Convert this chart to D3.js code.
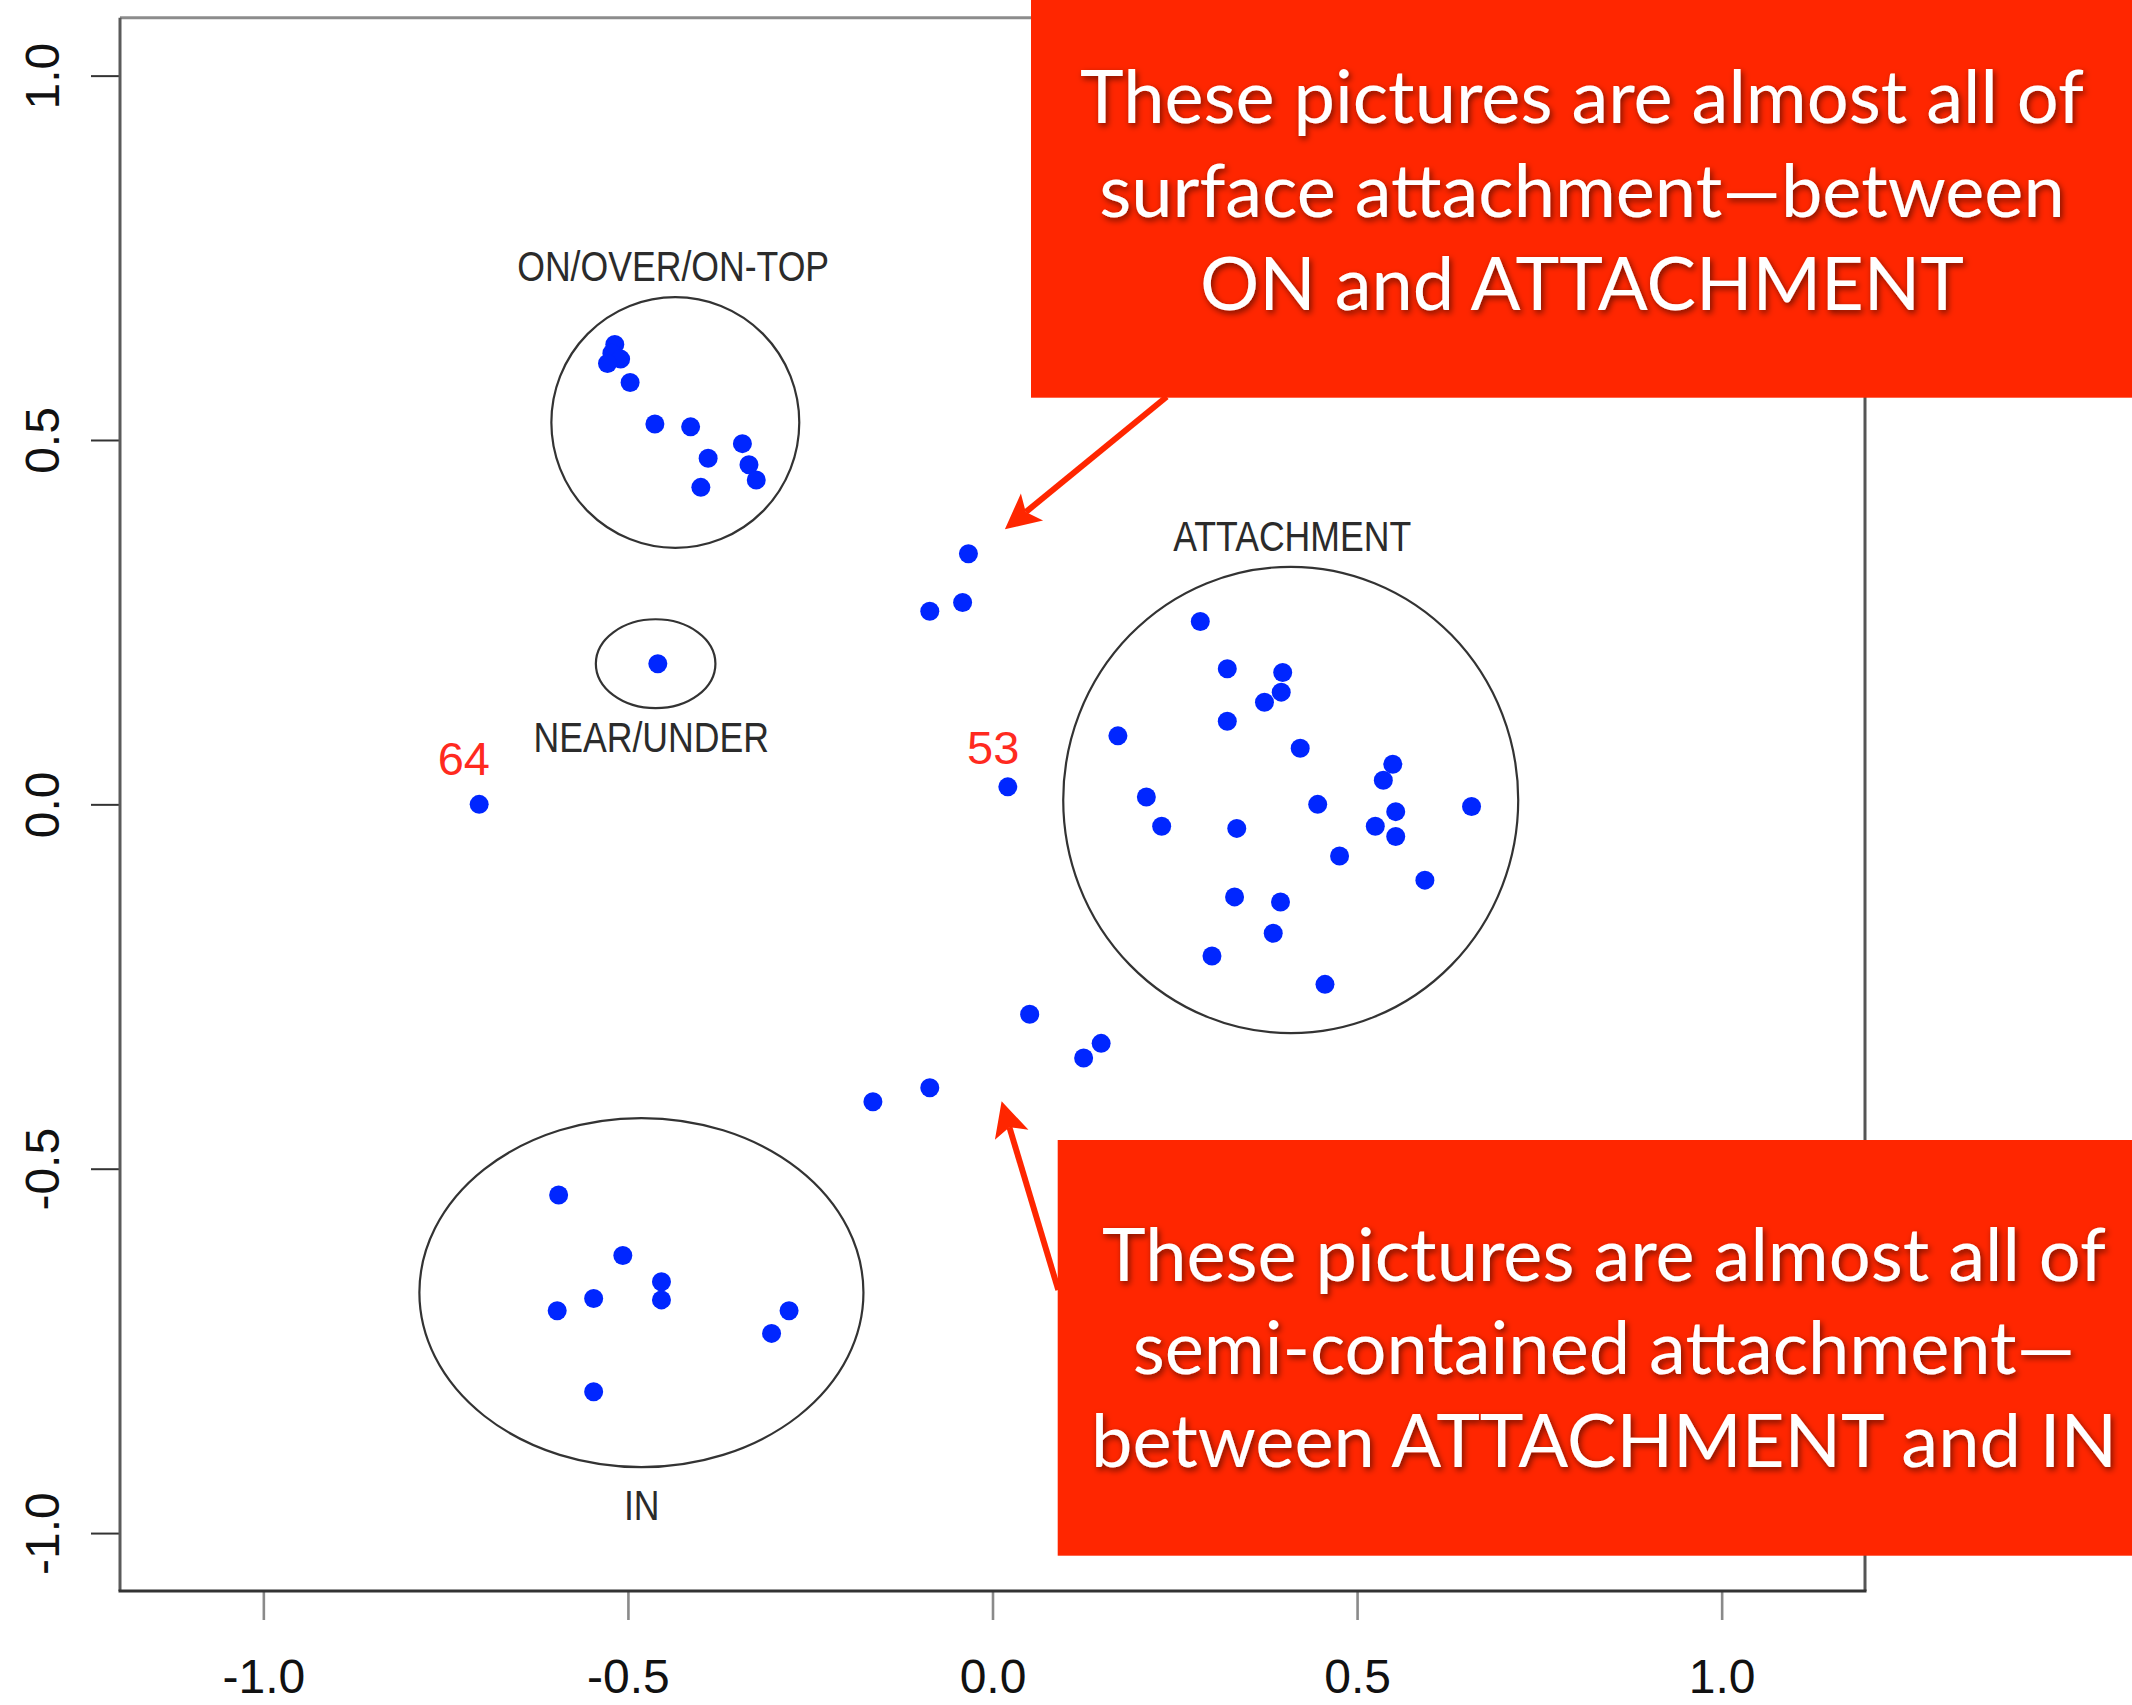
<!DOCTYPE html>
<html>
<head>
<meta charset="utf-8">
<script src="https://cdn.jsdelivr.net/npm/d3@7"></script>
<style>
  html, body { margin: 0; padding: 0; background: #ffffff; }
  svg { display: block; }
</style>
</head>
<body>
<svg id="chart" width="2132" height="1705"></svg>
<script>
// ---------------- DATA ----------------
const xTicks = [-1.0, -0.5, 0.0, 0.5, 1.0];
const yTicks = [-1.0, -0.5, 0.0, 0.5, 1.0];
const xTickLabels = ["-1.0", "-0.5", "0.0", "0.5", "1.0"];
const yTickLabels = ["-1.0", "-0.5", "0.0", "0.5", "1.0"];

const onOverPoints = [
  [-0.518, 0.631], [-0.522, 0.619], [-0.510, 0.611], [-0.528, 0.605],
  [-0.497, 0.579], [-0.463, 0.522], [-0.414, 0.518], [-0.343, 0.495],
  [-0.390, 0.475], [-0.334, 0.466], [-0.324, 0.445], [-0.400, 0.435]
];
const nearUnderPoints = [[-0.459, 0.193]];
const attachmentPoints = [
  [0.285, 0.251], [0.322, 0.186], [0.398, 0.181], [0.396, 0.154], [0.373, 0.140],
  [0.322, 0.114], [0.172, 0.094], [0.422, 0.077], [0.549, 0.055], [0.536, 0.033],
  [0.211, 0.010], [0.446, 0.000], [0.657, -0.003], [0.553, -0.010], [0.232, -0.030],
  [0.335, -0.033], [0.525, -0.030], [0.553, -0.044], [0.476, -0.071], [0.593, -0.104],
  [0.332, -0.127], [0.395, -0.134], [0.385, -0.177], [0.301, -0.208], [0.456, -0.247]
];
const inPoints = [
  [-0.595, -0.536], [-0.507, -0.619], [-0.454, -0.655], [-0.454, -0.680],
  [-0.547, -0.678], [-0.597, -0.695], [-0.279, -0.695], [-0.303, -0.726],
  [-0.547, -0.806]
];
const upperBetweenPoints = [[-0.033, 0.344], [-0.041, 0.277], [-0.086, 0.265]];
const lowerBetweenPoints = [[0.051, -0.288], [0.149, -0.328], [0.125, -0.348], [-0.086, -0.389], [-0.164, -0.408]];
const outlierPoints = [[-0.704, 0.000], [0.021, 0.024]];
const outlierLabels = ["64", "53"];
const outlierLabelPos = [[-0.725, 0.064], [0.001, 0.079]];

const clusterNames = ["ON/OVER/ON-TOP", "NEAR/UNDER", "ATTACHMENT", "IN"];
const clusterCenters = [[-0.435, 0.524], [-0.462, 0.193], [0.409, 0.006], [-0.4815, -0.670]];
const clusterRadii = [[0.170, 0.172], [0.082, 0.061], [0.312, 0.320], [0.3045, 0.2395]];
const clusterLabelPos = [[-0.438, 0.739], [-0.468, 0.093], [0.411, 0.368], [-0.481, -0.961]];

const calloutTexts = [
  ["These pictures are almost all of", "surface attachment\u2014between", "ON and ATTACHMENT"],
  ["These pictures are almost all of", "semi-contained attachment\u2014", "between ATTACHMENT and IN"]
];
const arrowTips = [[0.017, 0.3776], [0.0125, -0.4075]];

// ---------------- LAYOUT ----------------
const W = 2132, H = 1705;
const plot = { left: 120, right: 1865, top: 17.7, bottom: 1591 };
const svg = d3.select("#chart");

const x = d3.scaleLinear().domain([-1.1966, 1.1966]).range([plot.left, plot.right]);
const y = d3.scaleLinear().domain([-1.0795, 1.0795]).range([plot.bottom, plot.top]);

svg.append("rect").attr("width", W).attr("height", H).attr("fill", "#ffffff");

const defs = svg.append("defs");
const f = defs.append("filter").attr("id", "tshadow")
  .attr("x", "-10%").attr("y", "-30%").attr("width", "120%").attr("height", "160%");
f.append("feDropShadow").attr("dx", 2).attr("dy", 3).attr("stdDeviation", 3)
  .attr("flood-color", "#000").attr("flood-opacity", 0.55);

// ---------------- AXES ----------------
const tickLen = 29;
const xAxis = d3.axisBottom(x).tickValues(xTicks).tickSize(tickLen).tickPadding(0)
  .tickFormat((d, i) => xTickLabels[i]);
const gx = svg.append("g").attr("transform", `translate(0,${plot.bottom})`).call(xAxis);
gx.select(".domain").remove();
gx.selectAll(".tick line").attr("stroke", "#8a8a8a").attr("stroke-width", 2.6);
gx.selectAll(".tick text")
  .attr("font-family", "'Liberation Sans', Arial, Helvetica, sans-serif")
  .attr("font-size", 48).attr("fill", "#111").attr("dy", null)
  .attr("y", 1693 - plot.bottom).attr("dominant-baseline", "alphabetic");

const yAxis = d3.axisLeft(y).tickValues(yTicks).tickSize(tickLen).tickPadding(0)
  .tickFormat((d, i) => yTickLabels[i]);
const gy = svg.append("g").attr("transform", `translate(${plot.left},0)`).call(yAxis);
gy.select(".domain").remove();
gy.selectAll(".tick line").attr("stroke", "#333").attr("stroke-width", 2);
gy.selectAll(".tick text")
  .attr("font-family", "'Liberation Sans', Arial, Helvetica, sans-serif")
  .attr("font-size", 48).attr("fill", "#111")
  .attr("x", null).attr("dy", null)
  .attr("text-anchor", "middle")
  .attr("transform", `translate(${59 - plot.left},0) rotate(-90)`);

// frame
svg.append("line").attr("x1", plot.left).attr("x2", plot.right).attr("y1", plot.top).attr("y2", plot.top)
  .attr("stroke", "#8c8c8c").attr("stroke-width", 3);
svg.append("line").attr("x1", plot.left).attr("x2", plot.left).attr("y1", plot.top).attr("y2", plot.bottom)
  .attr("stroke", "#5a5a5a").attr("stroke-width", 3);
svg.append("line").attr("x1", plot.right).attr("x2", plot.right).attr("y1", plot.top).attr("y2", plot.bottom)
  .attr("stroke", "#555").attr("stroke-width", 3);
svg.append("line").attr("x1", plot.left - 1.5).attr("x2", plot.right + 1.5).attr("y1", plot.bottom).attr("y2", plot.bottom)
  .attr("stroke", "#333").attr("stroke-width", 3);

// ---------------- CLUSTER ELLIPSES ----------------
const pxPerUnitX = x(1) - x(0), pxPerUnitY = y(0) - y(1);
svg.append("g").selectAll("ellipse").data(clusterCenters).join("ellipse")
  .attr("cx", d => x(d[0])).attr("cy", d => y(d[1]))
  .attr("rx", (d, i) => clusterRadii[i][0] * pxPerUnitX)
  .attr("ry", (d, i) => clusterRadii[i][1] * pxPerUnitY)
  .attr("fill", "none").attr("stroke", "#333").attr("stroke-width", 2.2);

svg.append("g").selectAll("text").data(clusterNames).join("text")
  .attr("transform", (d, i) => `translate(${x(clusterLabelPos[i][0])},${y(clusterLabelPos[i][1])}) scale(0.848,1)`)
  .attr("dy", "0.36em")
  .attr("text-anchor", "middle")
  .attr("font-family", "'Liberation Sans', Arial, Helvetica, sans-serif")
  .attr("font-size", 42).attr("fill", "#2b2b2b")
  .text(d => d);

// ---------------- POINTS ----------------
const allPoints = [].concat(onOverPoints, nearUnderPoints, attachmentPoints, inPoints,
  upperBetweenPoints, lowerBetweenPoints, outlierPoints);
svg.append("g").selectAll("circle").data(allPoints).join("circle")
  .attr("cx", d => x(d[0])).attr("cy", d => y(d[1]))
  .attr("r", 9.5).attr("fill", "#0026ff");

svg.append("g").selectAll("text").data(outlierLabels).join("text")
  .attr("x", (d, i) => x(outlierLabelPos[i][0])).attr("y", (d, i) => y(outlierLabelPos[i][1]))
  .attr("dy", "0.36em").attr("text-anchor", "middle")
  .attr("font-family", "'Liberation Sans', Arial, Helvetica, sans-serif")
  .attr("font-size", 47).attr("fill", "#ff2a1f")
  .text(d => d);

// ---------------- CALLOUTS ----------------
const red = "#ff2600";
const boxes = [
  { x0: 1031, y0: -10, x1: 2140, y1: 397.7, cx: 1582, baselines: [123, 217, 310], from: [1166.7, 396.7] },
  { x0: 1057.7, y0: 1140, x1: 2140, y1: 1555.7, cx: 1604, baselines: [1281, 1374, 1466.5], from: [1058.3, 1290] }
];

function drawArrow(g, from, tip) {
  const dx = tip[0] - from[0], dy = tip[1] - from[1];
  const len = Math.hypot(dx, dy), ux = dx / len, uy = dy / len;
  const px = -uy, py = ux;
  const headLen = 35, halfW = 17.5, notch = 8;
  const base = [tip[0] - ux * headLen, tip[1] - uy * headLen];
  const notchPt = [tip[0] - ux * (headLen - notch), tip[1] - uy * (headLen - notch)];
  g.append("line").attr("x1", from[0]).attr("y1", from[1])
    .attr("x2", notchPt[0]).attr("y2", notchPt[1])
    .attr("stroke", red).attr("stroke-width", 6);
  g.append("path").attr("d", d3.line()([
    tip,
    [base[0] + px * halfW, base[1] + py * halfW],
    notchPt,
    [base[0] - px * halfW, base[1] - py * halfW]
  ]) + "Z").attr("fill", red);
}

const ga = svg.append("g");
boxes.forEach((b, i) => drawArrow(ga, b.from, [x(arrowTips[i][0]), y(arrowTips[i][1])]));

boxes.forEach((b, i) => {
  const g = svg.append("g");
  g.append("rect").attr("x", b.x0).attr("y", b.y0)
    .attr("width", b.x1 - b.x0).attr("height", b.y1 - b.y0).attr("fill", red);
  g.selectAll("text").data(calloutTexts[i]).join("text")
    .attr("x", b.cx).attr("y", (d, j) => b.baselines[j])
    .attr("text-anchor", "middle")
    .attr("font-family", "Lato, 'Open Sans', sans-serif")
    .attr("font-size", 74).attr("fill", "#ffffff")
    .attr("filter", "url(#tshadow)")
    .text(d => d);
});
</script>
</body>
</html>
